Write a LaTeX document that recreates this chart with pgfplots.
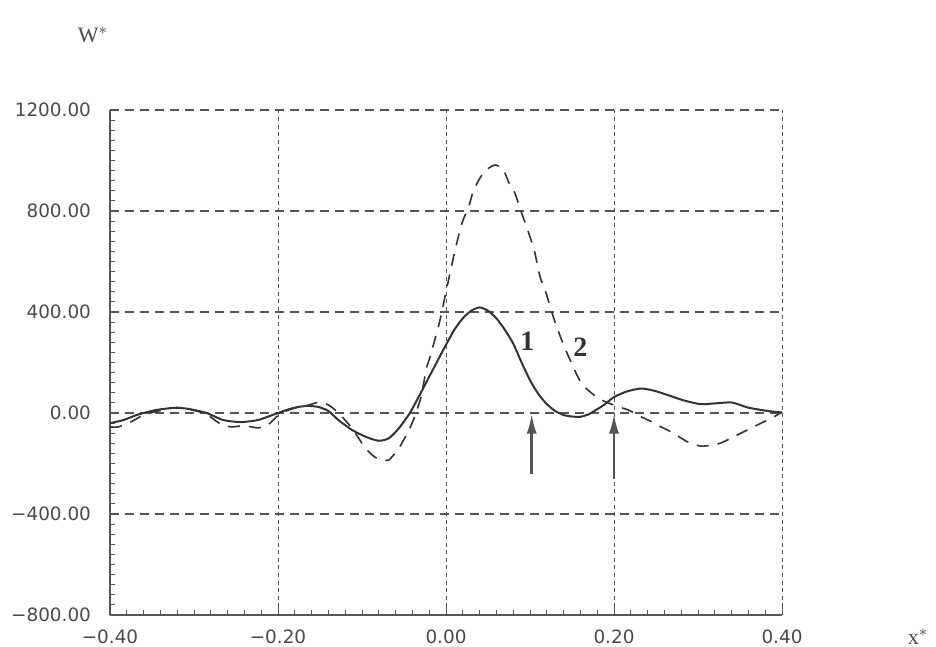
\documentclass[border=0pt]{standalone}
\usepackage{fontspec}
\setmainfont{DejaVu Sans}
\newfontfamily\seriffont{Liberation Serif}
\usepackage{pgfplots}
\pgfplotsset{compat=1.18}
\usetikzlibrary{arrows.meta}
\definecolor{ink}{HTML}{333333}
\definecolor{gridc}{HTML}{555555}
\definecolor{lab}{HTML}{4A4A4A}
\begin{document}
\begin{tikzpicture}
\path[use as bounding box] (0,0) rectangle (468pt,323.5pt);
\begin{axis}[
  at={(55pt,16pt)}, anchor=south west,
  scale only axis, width=336pt, height=252.5pt,
  xmin=-0.4, xmax=0.4, ymin=-800, ymax=1200,
  xtick={-0.4,-0.2,0,0.2,0.4},
  xticklabels={−0.40,−0.20,0.00,0.20,0.40},
  ytick={-800,-400,0,400,800,1200},
  yticklabels={−800.00,−400.00,0.00,400.00,800.00,1200.00},
  minor x tick num=9, minor y tick num=9,
  axis x line*=bottom, axis y line*=left,
  axis line style={-, gridc, line width=0.6pt},
  tick style={gridc, line width=0.5pt},
  tick align=inside,
  major tick length=4pt, minor tick length=2.5pt,
  grid=major,
  major x grid style={gridc, line width=0.5pt, dash pattern=on 2pt off 1.8pt},
  major y grid style={gridc, line width=0.6pt, dash pattern=on 4.5pt off 3pt},
  ticklabel style={font=\fontsize{9.2}{10}\selectfont, text=lab},
  yticklabel style={xshift=-6pt},
  xticklabel style={yshift=-4pt},
  clip=false,
]
\addplot[ink, line width=1pt, smooth, tension=0.4] coordinates {
(-0.400,-40) (-0.384,-28) (-0.370,-10) (-0.360,0) (-0.345,12) (-0.325,20)
(-0.310,18) (-0.300,12) (-0.285,0) (-0.265,-28) (-0.244,-36) (-0.224,-28)
(-0.210,-12) (-0.200,0) (-0.188,14) (-0.176,24) (-0.164,28) (-0.152,24)
(-0.140,8) (-0.128,-28) (-0.112,-67) (-0.095,-95) (-0.080,-110) (-0.068,-100)
(-0.056,-60) (-0.043,0) (-0.030,80) (-0.019,150) (-0.008,220) (0.000,270)
(0.010,330) (0.020,375) (0.030,405) (0.040,418) (0.050,405) (0.060,375)
(0.070,330) (0.080,275) (0.090,200) (0.100,130) (0.110,75) (0.120,35)
(0.130,8) (0.140,-8) (0.150,-14) (0.160,-15) (0.170,-5) (0.180,15)
(0.188,32) (0.200,63) (0.215,85) (0.232,97) (0.248,88) (0.264,71)
(0.283,50) (0.303,35) (0.320,38) (0.339,42) (0.350,32) (0.359,22)
(0.375,12) (0.390,5) (0.400,2)
};
\addplot[ink, line width=0.8pt, smooth, tension=0.4, dash pattern=on 6pt off 4.5pt] coordinates {
(-0.400,-55) (-0.390,-55) (-0.375,-35) (-0.360,-8) (-0.340,10) (-0.320,22)
(-0.300,10) (-0.285,-5) (-0.270,-40) (-0.256,-55) (-0.240,-50) (-0.224,-59)
(-0.212,-47) (-0.200,-10) (-0.185,15) (-0.165,30) (-0.152,42) (-0.140,32)
(-0.128,0) (-0.112,-60) (-0.096,-139) (-0.085,-174) (-0.076,-186) (-0.068,-186)
(-0.056,-139) (-0.044,-67) (-0.038,-20) (-0.030,60) (-0.023,182) (-0.019,222)
(-0.008,356) (0.000,480) (0.010,634) (0.019,752) (0.027,816) (0.033,883)
(0.045,954) (0.058,982) (0.068,965) (0.075,911) (0.082,871) (0.090,792)
(0.096,737) (0.105,645) (0.112,539) (0.118,487) (0.129,368) (0.141,261)
(0.157,143) (0.165,103) (0.181,59) (0.193,40) (0.205,25) (0.217,12)
(0.228,-8) (0.245,-35) (0.256,-55) (0.268,-75) (0.288,-115) (0.303,-131)
(0.315,-128) (0.327,-119) (0.342,-95) (0.366,-55) (0.390,-16) (0.400,4)
};
\draw[gridc, line width=1.3pt, -{Latex[length=10pt,width=5pt]}] (axis cs:0.102,-240) -- (axis cs:0.102,-2);
\draw[gridc, line width=1.3pt, -{Latex[length=10pt,width=5pt]}] (axis cs:0.200,-262) -- (axis cs:0.200,-2);
\node[font=\seriffont\bfseries\fontsize{14}{14}\selectfont, text=ink] at (axis cs:0.097,285) {1};
\node[font=\seriffont\bfseries\fontsize{14}{14}\selectfont, text=ink] at (axis cs:0.160,262) {2};
\end{axis}
\node[font=\seriffont\fontsize{11}{11}\selectfont, text=lab] at (46.5pt,306pt) {W$^{*}$};
\node[font=\seriffont\fontsize{11}{11}\selectfont, text=lab] at (459pt,5pt) {x$^{*}$};
\end{tikzpicture}
\end{document}
